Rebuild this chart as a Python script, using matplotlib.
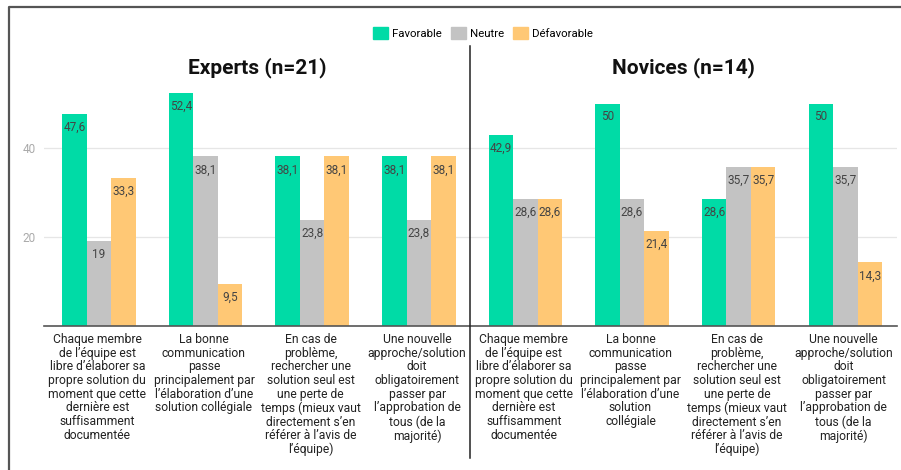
import matplotlib
matplotlib.use("Agg")
import matplotlib.pyplot as plt
import numpy as np
from matplotlib.lines import Line2D
from matplotlib.patches import Patch
from matplotlib.transforms import blended_transform_factory

plt.rcParams['font.family'] = ['Roboto', 'DejaVu Sans']

series = ['Favorable', 'Neutre', 'Défavorable']
colors = ['#00dba6', '#c3c3c3', '#ffc875']

groups = ['Experts (n=21)', 'Novices (n=14)']

# valeurs en % : experts puis novices
favorable = [47.6, 52.4, 38.1, 38.1, 42.9, 50, 28.6, 50]
neutre = [19, 38.1, 23.8, 23.8, 28.6, 28.6, 35.7, 35.7]
defavorable = [33.3, 9.5, 38.1, 38.1, 28.6, 21.4, 35.7, 14.3]

labels = [
    "Chaque membre\nde l’équipe est\nlibre d’élaborer sa\npropre solution du\nmoment que cette\ndernière est\nsuffisamment\ndocumentée",
    "La bonne\ncommunication\npasse\nprincipalement par\nl’élaboration d’une\nsolution collégiale",
    "En cas de\nproblème,\nrechercher une\nsolution seul est\nune perte de\ntemps (mieux vaut\ndirectement s’en\nréférer à l’avis de\nl’équipe)",
    "Une nouvelle\napproche/solution\ndoit\nobligatoirement\npasser par\nl’approbation de\ntous (de la\nmajorité)",
    "Chaque membre\nde l’équipe est\nlibre d’élaborer sa\npropre solution du\nmoment que cette\ndernière est\nsuffisamment\ndocumentée",
    "La bonne\ncommunication\npasse\nprincipalement par\nl’élaboration d’une\nsolution\ncollégiale",
    "En cas de\nproblème,\nrechercher une\nsolution seul est\nune perte de\ntemps (mieux vaut\ndirectement s’en\nréférer à l’avis de\nl’équipe)",
    "Une nouvelle\napproche/solution\ndoit\nobligatoirement\npasser par\nl’approbation de\ntous (de la\nmajorité)",
]

W, H = 901, 470
fig = plt.figure(figsize=(W / 100, H / 100), dpi=100)
ax = fig.add_axes([44 / W, 144 / H, 853 / W, 267 / H])

x = np.arange(len(labels)) + 0.5
bw = 0.23
for k, (vals, col) in enumerate(zip([favorable, neutre, defavorable], colors)):
    pos = x + (k - 1) * bw + 0.015
    ax.bar(pos, vals, width=bw, color=col, zorder=2)
    for px, v in zip(pos, vals):
        txt = f"{v:g}".replace('.', ',')
        ax.annotate(txt, (px, v), xytext=(0, -5), textcoords='offset points',
                    ha='center', va='top', fontsize=8.5, color='#444444', zorder=3)

ax.set_xlim(0, len(labels))
ax.set_ylim(0, 60)
ax.set_yticks([20, 40])
ax.tick_params(axis='y', length=0, labelsize=8.5, labelcolor='#aaaaaa', pad=6)
ax.set_xticks(x)
ax.set_xticklabels(labels, fontsize=8.7, color='#222222', linespacing=1.07)
ax.tick_params(axis='x', length=0, pad=5)
ax.grid(axis='y', color='#e6e6e6', lw=0.9, zorder=0)
for s in ['top', 'right', 'left']:
    ax.spines[s].set_visible(False)
ax.spines['bottom'].set_color('#555555')
ax.spines['bottom'].set_linewidth(1.2)

# titres des deux groupes
trans = blended_transform_factory(ax.transData, fig.transFigure)
for i, g in enumerate(groups):
    ax.text(2 + 4 * i, 1 - 68 / H, g, transform=trans, ha='center', va='center',
            fontsize=15, fontweight='bold', color='#111111')

# séparateur vertical et cadre
fig.add_artist(Line2D([470 / W, 470 / W], [1 - 46 / H, 1 - 458 / H],
                      color='#222222', lw=1.1))
fig.add_artist(Line2D([9 / W, 9 / W, 1], [0, 1 - 7 / H, 1 - 7 / H],
                      color='#555555', lw=1.6))

handles = [Patch(color=c, label=s) for c, s in zip(colors, series)]
fig.legend(handles=handles, loc='center', bbox_to_anchor=(483 / W, 1 - 33 / H),
           ncol=3, frameon=False, fontsize=8.2, handlelength=1.3, handleheight=1.3,
           handletextpad=0.35, columnspacing=0.8)

fig.savefig('out.png', dpi=100)
